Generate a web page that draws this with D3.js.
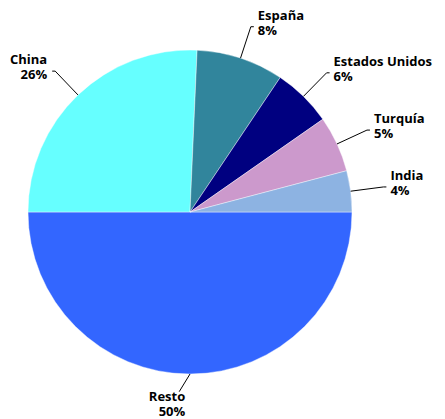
<!DOCTYPE html>
<html>
<head>
<meta charset="utf-8">
<style>
    body { margin: 0; background: #fff; }
    .lbl text { font: bold 13px "Open Sans", sans-serif; fill: #000; }
    .lbl path { fill: none; stroke: #000; stroke-width: 1; }
</style>
<script src="https://d3js.org/d3.v7.min.js"></script>
</head>
<body>
<svg width="445" height="419"></svg>
<script>
// data, clockwise from 3 o'clock
var names = ["Resto", "China", "España", "Estados Unidos", "Turquía", "India"];
var values = [50, 25.7, 8.7, 5.9, 5.6, 4.1];
var pctLabels = ["50%", "26%", "8%", "6%", "5%", "4%"];
var colors = ["#3366ff", "#66ffff", "#31859c", "#000080", "#cc99cc", "#8db3e2"];

var svg = d3.select("svg"),
    cx = 190, cy = 212, radius = 162;

var g = svg.append("g").attr("transform", "translate(" + cx + "," + cy + ")");

var pie = d3.pie().sort(null)
    .startAngle(Math.PI / 2)
    .endAngle(Math.PI / 2 + 2 * Math.PI);

var arcs = pie(values);

var arc = d3.arc().innerRadius(0).outerRadius(radius);

g.selectAll(".slice")
    .data(arcs)
    .enter().append("path")
    .attr("class", "slice")
    .attr("d", arc)
    .attr("fill", function(d, i) { return colors[i]; })
    .attr("stroke", "#fff")
    .attr("stroke-width", 0.4);

function pt(a, r) {
    return [Math.sin(a) * r, -Math.cos(a) * r];
}

var lbl = g.selectAll(".lbl")
    .data(arcs)
    .enter().append("g")
    .attr("class", "lbl");

lbl.each(function(d, i) {
    var sel = d3.select(this);
    var mid = (d.startAngle + d.endAngle) / 2;
    var isResto = i === 0;
    var p0 = pt(mid, radius);
    var p1 = pt(mid + (isResto ? 0.06 : 0), isResto ? 180 : 195);
    var right = Math.sin(mid) > 0;
    var line = [p0, p1];
    if (!isResto) line.push([p1[0] + (right ? 3 : -3), p1[1]]);
    sel.append("path").attr("d", d3.line()(line));

    var tx, y1, anchor;
    if (isResto) {
        tx = p1[0] + 6; y1 = p1[1] + 9.5; anchor = "end";
    } else {
        tx = p1[0] + (right ? 7 : -8); y1 = p1[1] - 7; anchor = right ? "start" : "end";
    }
    var t = sel.append("text").attr("text-anchor", anchor);
    t.append("tspan").attr("x", tx).attr("y", y1).text(names[i]);
    t.append("tspan").attr("x", tx).attr("y", y1 + 15).text(pctLabels[i]);
});
</script>
</body>
</html>
